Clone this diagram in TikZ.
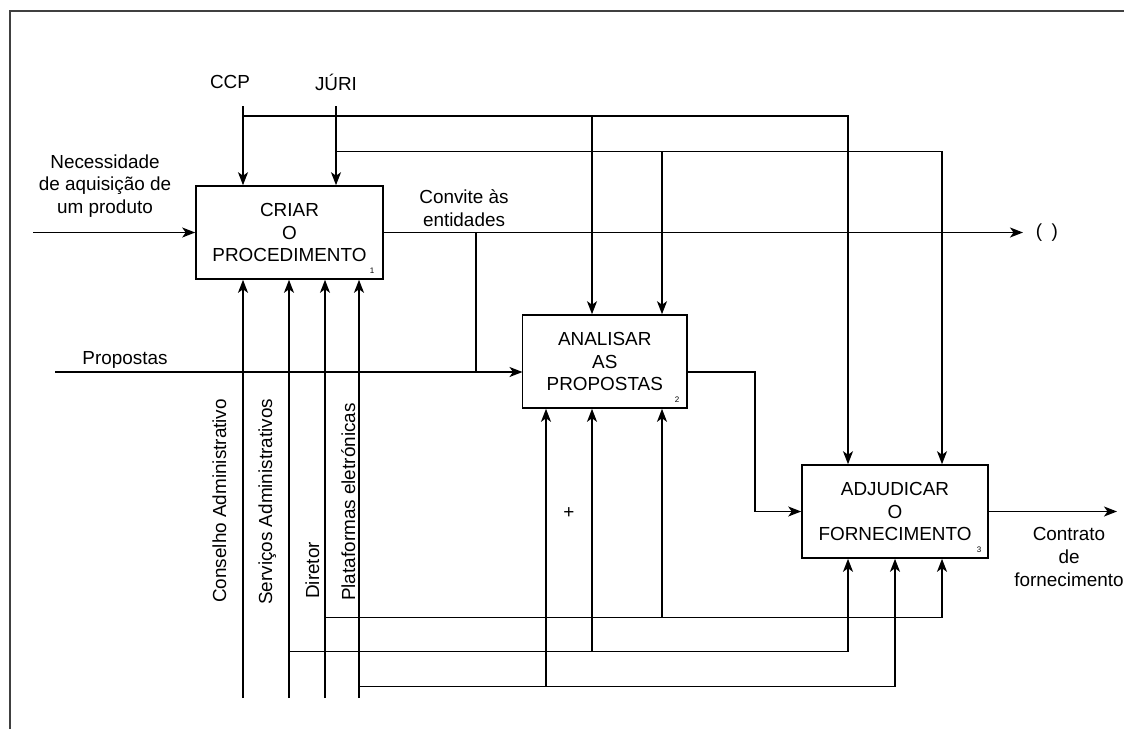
\documentclass[tikz,border=0pt]{standalone}
\usepackage{fontspec}
\setmainfont{Liberation Sans}
\usetikzlibrary{arrows.meta}
\begin{document}
\begin{tikzpicture}[x=1pt,y=-1pt,
  every node/.style={font=\fontsize{18.9}{22.6}\selectfont, inner sep=0pt},
  conn/.style={line width=1.4pt, black},
  arr/.style={conn, -{Stealth[length=13pt,width=10pt,inset=3.5pt]}},
  actbox/.style={draw, line width=1.6pt, align=center},
  num/.style={font=\fontsize{8}{9}\selectfont},
  lbl/.style={align=center},
  vlbl/.style={rotate=90, anchor=base west}]
\useasboundingbox (0,0) rectangle (1124,729);
% frame
\draw[line width=2pt, black!75] (10,729) -- (10,11) -- (1124,11);

% activity boxes
\node[actbox, minimum width=187pt, minimum height=93pt] (b1) at (289.5,232.5) {CRIAR\\O\\PROCEDIMENTO};
\node[actbox, minimum width=164.5pt, minimum height=93pt] (b2) at (604.75,361.5) {ANALISAR\\AS\\PROPOSTAS};
\node[actbox, minimum width=186pt, minimum height=93pt] (b3) at (895,511.5) {ADJUDICAR\\O\\FORNECIMENTO};
\node[num] (n1) at (372,271) {1};
\node[num] (n2) at (677,400) {2};
\node[num] (n3) at (979,550) {3};

% labels
\node (ccp) at (230,82) {CCP};
\node (juri) at (336,82) {JÚRI};
\node[lbl] (nec) at (105,186) {Necessidade\\de aquisição de\\um produto};
\node[lbl] (conv) at (464,208) {Convite às\\entidades};
\node (paren) at (1047,233) {(\,\,\,)};
\node (prop) at (125,360) {Propostas};
\node[lbl] (contr) at (1069,557) {Contrato\\de\\fornecimento};
\node (plus) at (569,513) {+};
\node[vlbl] (lca) at (226,603) {Conselho Administrativo};
\node[vlbl] (lsa) at (272,605) {Serviços Administrativos};
\node[vlbl] (ldir) at (319,599) {Diretor};
\node[vlbl] (lpe) at (355,601) {Plataformas eletrónicas};

% coordinates
\coordinate (ccpT) at (243,106);
\coordinate (juriT) at (336,106);
\coordinate (necS) at (33,232.5);
\coordinate (outE) at (1023,232.5);
\coordinate (convJ) at (476,232.5);
\coordinate (propS) at (55,372);
\coordinate (b2in) at (522.5,372);
\coordinate (b2out) at (687,372);
\coordinate (bend) at (755,372);
\coordinate (contrE) at (1117,511.5);
\coordinate (caB) at (243,698);
\coordinate (saB) at (289,698);
\coordinate (dirB) at (325,698);
\coordinate (peB) at (359,698);

% controls from top
\draw[arr] (ccpT) -- (ccpT |- b1.north);
\draw[arr] (juriT) -- (juriT |- b1.north);
\draw[arr] (243,116) -- (848,116) -- (848,116 |- b3.north);
\draw[arr] (592,116) -- (592,116 |- b2.north);
\draw[arr] (336,151.7) -- (942,151.7) -- (942,151.7 |- b3.north);
\draw[arr] (662,151.7) -- (662,151.7 |- b2.north);

% inputs / outputs
\draw[arr] (necS) -- (b1.west);
\draw[arr] (b1.east) -- (outE);
\draw[conn] (convJ) -- (convJ |- propS);
\draw[arr] (propS) -- (b2in);
\draw[arr] (b2out) -- (bend) -- (bend |- b3.west) -- (b3.west);
\draw[arr] (b3.east) -- (contrE);

% mechanisms from bottom
\draw[arr] (caB) -- (caB |- b1.south);
\draw[arr] (saB) -- (saB |- b1.south);
\draw[arr] (dirB) -- (dirB |- b1.south);
\draw[arr] (peB) -- (peB |- b1.south);

\draw[arr] (325,617.3) -- (942,617.3) -- (942,617.3 |- b3.south);
\draw[arr] (662,617.3) -- (662,617.3 |- b2.south);
\draw[arr] (289,651.7) -- (848,651.7) -- (848,651.7 |- b3.south);
\draw[arr] (592,651.7) -- (592,651.7 |- b2.south);
\draw[arr] (359,686.7) -- (895,686.7) -- (895,686.7 |- b3.south);
\draw[arr] (546,686.7) -- (546,686.7 |- b2.south);
\end{tikzpicture}
\end{document}
